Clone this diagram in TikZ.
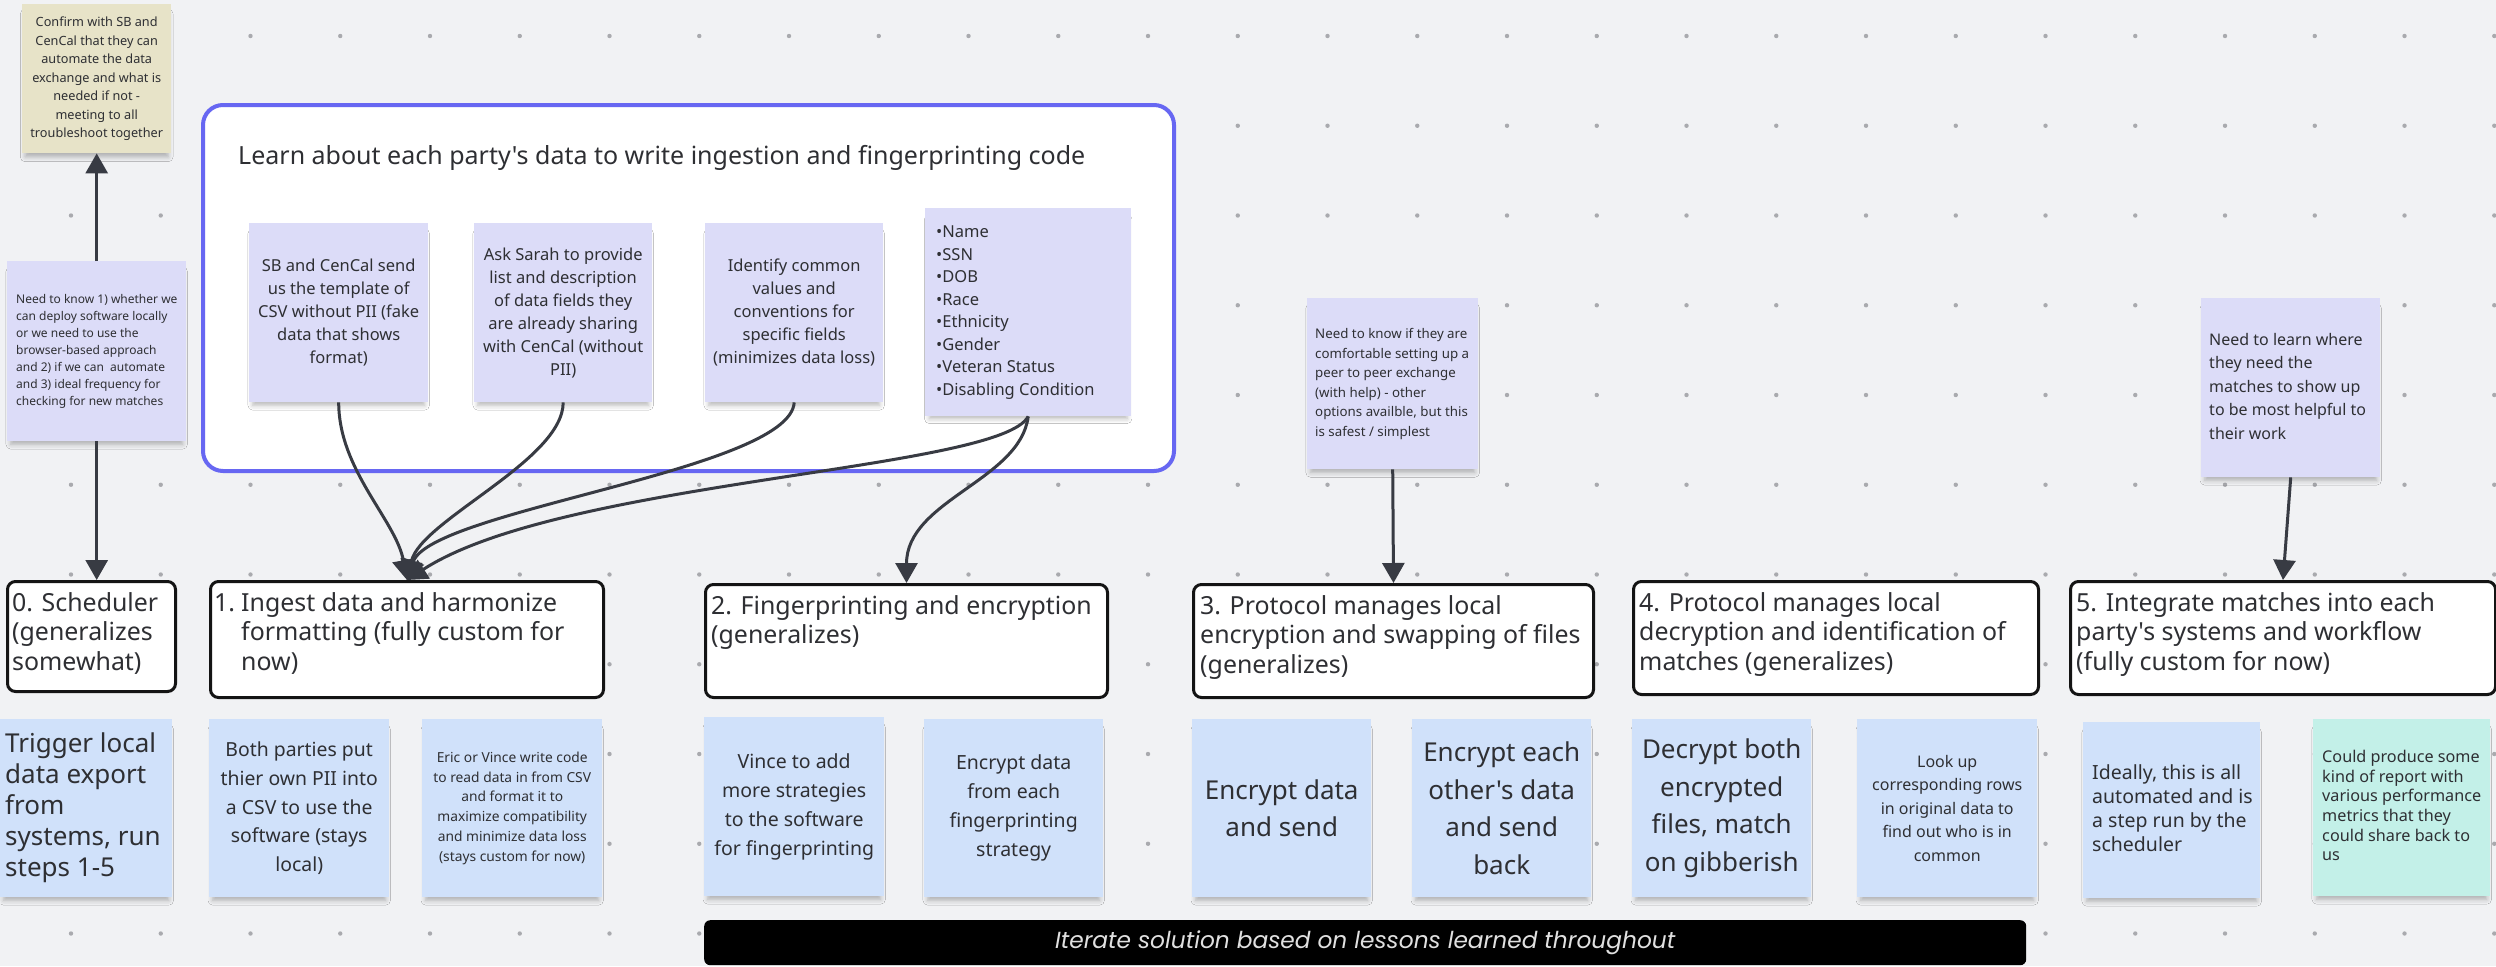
\documentclass[tikz,border=0pt]{standalone}
\usepackage{fontspec}
\setmainfont{Noto Sans}[Ligatures=TeXOff]
\newfontfamily\barfont{Poppins}
\usetikzlibrary{arrows.meta,shadows.blur}
\newcommand{\setfs}[2]{\fontsize{#1}{#2}\selectfont}
% left-aligned block of fixed width, lines never wrap
\newcommand{\leftlines}[2]{\makebox[#1][l]{\begin{tabular}{@{}l@{}}#2\end{tabular}}}

\definecolor{canvas}{HTML}{F1F2F4}
\definecolor{griddot}{HTML}{A9AAAE}
\definecolor{lav}{HTML}{DCDCF8}
\definecolor{skyb}{HTML}{D0E1FA}
\definecolor{mint}{HTML}{C3F0E8}
\definecolor{sand}{HTML}{E7E3C8}
\definecolor{ink}{HTML}{2E2F33}
\definecolor{wire}{HTML}{383B43}
\definecolor{frame}{HTML}{6767F2}

\tikzset{
  note/.style={rectangle, draw=none, anchor=north west, text=ink, inner ysep=0pt,
    blur shadow={shadow xshift=0pt, shadow yshift=-7pt, shadow blur radius=5pt,
                 shadow opacity=28, shadow scale=0.96}},
  cnote/.style 2 args={note, inner xsep=0pt, minimum width=#1,
    minimum height=#2, align=center},
  lnote/.style n args={3}{note, inner xsep=#3, minimum width=#1, minimum height=#2},
  procbox/.style={rectangle, draw=black!92, line width=3pt, rounded corners=8pt,
    fill=white, anchor=north west, inner sep=0pt},
  proctext/.style={anchor=north west, inner sep=0pt, align=left, text=ink,
    font=\setfs{24.9}{29.5}},
  connector/.style={draw=wire, line width=3pt, -{Triangle[length=20pt,width=22pt]}},
}

\begin{document}
\begin{tikzpicture}[x=1pt, y=-1pt]
  \useasboundingbox (0,0) rectangle (2496,966);
  \fill[canvas] (0,0) rectangle (2496,966);

  % dotted canvas grid
  \foreach \i in {0,...,27}
    \foreach \j in {0,...,10}
      \fill[griddot] ({71+89.75*\i},{36+89.75*\j}) circle (2.2pt);

  % planning notes, top left
  \node[cnote={149pt}{149pt}, fill=sand, font=\setfs{12.7}{18.5}] (confirm) at (22,4)
    {Confirm with SB and\\CenCal that they can\\automate the data\\exchange and what is\\needed if not -\\meeting to all\\troubleshoot together};
  \node[lnote={179pt}{180pt}{9pt}, fill=lav, font=\setfs{12}{17}] (needs) at (7,261)
    {\leftlines{161pt}{Need to know 1) whether we\\can deploy software locally\\or we need to use the\\browser-based approach\\and 2) if we can \ automate\\and 3) ideal frequency for\\checking for new matches}};

  % data discovery frame
  \node[draw=frame, line width=4pt, fill=white, rounded corners=20pt, anchor=north west,
        minimum width=971pt, minimum height=366pt] (learn) at (201,103) {};
  \node[anchor=west, inner sep=0pt, text=ink, font=\setfs{25}{30}] (learntitle) at (238,158)
    {Learn about each party's data to write ingestion and fingerprinting code};

  \node[cnote={179pt}{179pt}, fill=lav, font=\setfs{16.5}{23}] (na) at (249,223)
    {SB and CenCal send\\us the template of\\CSV without PII (fake\\data that shows\\format)};
  \node[cnote={178pt}{179pt}, fill=lav, font=\setfs{16.5}{23}] (nb) at (474,223)
    {Ask Sarah to provide\\list and description\\of data fields they\\are already sharing\\with CenCal (without\\PII)};
  \node[cnote={178pt}{179pt}, fill=lav, font=\setfs{16.5}{23}] (nc) at (705,223)
    {Identify common\\values and\\conventions for\\specific fields\\(minimizes data loss)};
  \node[lnote={206pt}{208pt}{11pt}, fill=lav, font=\setfs{16.5}{22.5}] (nd) at (925,208)
    {\leftlines{184pt}{•Name\\•SSN\\•DOB\\•Race\\•Ethnicity\\•Gender\\•Veteran Status\\•Disabling Condition}};

  % open questions above steps 3 and 5
  \node[lnote={171pt}{171pt}{8pt}, fill=lav, font=\setfs{13.3}{19.5}] (peer) at (1307,298)
    {\leftlines{155pt}{Need to know if they are\\comfortable setting up a\\peer to peer exchange\\(with help) - other\\options availble, but this\\is safest / simplest}};
  \node[lnote={179pt}{179pt}{8pt}, fill=lav, font=\setfs{16}{23.5}] (where) at (2201,298)
    {\leftlines{163pt}{Need to learn where\\they need the\\matches to show up\\to be most helpful to\\their work}};

  % pipeline steps
  \node[procbox, minimum width=168pt, minimum height=110pt] (sched) at (6,580) {};
  \node[proctext] (schedtxt) at ([shift={(6pt,-12pt)}]sched.north west)
    {0. Scheduler\\(generalizes\\somewhat)};
  \node[procbox, minimum width=393pt, minimum height=116pt] (ingest) at (209,580) {};
  \node[proctext] (ingesttxt) at ([shift={(5pt,-12pt)}]ingest.north west)
    {\makebox[27pt][l]{1.}Ingest data and harmonize\\\hspace*{27pt}formatting (fully custom for\\\hspace*{27pt}now)};
  \node[procbox, minimum width=402pt, minimum height=113pt] (fpbox) at (704,583) {};
  \node[proctext] (fptxt) at ([shift={(7pt,-12pt)}]fpbox.north west)
    {2. Fingerprinting and encryption\\(generalizes)};
  \node[procbox, minimum width=400pt, minimum height=113pt] (protobox) at (1192,583) {};
  \node[proctext] (prototxt) at ([shift={(8pt,-12pt)}]protobox.north west)
    {3. Protocol manages local\\encryption and swapping of files\\(generalizes)};
  \node[procbox, minimum width=405pt, minimum height=113pt] (decbox) at (1632,580) {};
  \node[proctext] (dectxt) at ([shift={(7pt,-12pt)}]decbox.north west)
    {4. Protocol manages local\\decryption and identification of\\matches (generalizes)};
  \node[procbox, minimum width=425pt, minimum height=113pt] (integ) at (2069,580) {};
  \node[proctext] (integtxt) at ([shift={(7pt,-12pt)}]integ.north west)
    {5. Integrate matches into each\\party's systems and workflow\\(fully custom for now)};

  % task notes under each step
  \node[lnote={172pt}{178pt}{5pt}, fill=skyb, font=\setfs{26}{31}] (trigger) at (0,719)
    {\leftlines{162pt}{Trigger local\\data export\\from\\systems, run\\steps 1-5}};
  \node[cnote={180pt}{178pt}, fill=skyb, font=\setfs{19.4}{28.6}] (bothput) at (209,719)
    {Both parties put\\thier own PII into\\a CSV to use the\\software (stays\\local)};
  \node[cnote={180pt}{178pt}, fill=skyb, font=\setfs{13.8}{19.7}] (ericvince) at (422,719)
    {Eric or Vince write code\\to read data in from CSV\\and format it to\\maximize compatibility\\and minimize data loss\\(stays custom for now)};
  \node[cnote={180pt}{179pt}, fill=skyb, font=\setfs{19.5}{29}] (vince) at (704,717)
    {Vince to add\\more strategies\\to the software\\for fingerprinting};
  \node[cnote={179pt}{178pt}, fill=skyb, font=\setfs{19.5}{29}] (encfp) at (924,719)
    {Encrypt data\\from each\\fingerprinting\\strategy};
  \node[cnote={179pt}{178pt}, fill=skyb, font=\setfs{26}{37.5}] (encsend) at (1192,719)
    {Encrypt data\\and send};
  \node[cnote={179pt}{178pt}, fill=skyb, font=\setfs{26}{37.5}] (encback) at (1412,719)
    {Encrypt each\\other's data\\and send\\back};
  \node[cnote={179pt}{178pt}, fill=skyb, font=\setfs{26}{37.5}] (decrypt) at (1632,719)
    {Decrypt both\\encrypted\\files, match\\on gibberish};
  \node[cnote={180pt}{178pt}, fill=skyb, font=\setfs{16}{23.5}] (lookup) at (1857,719)
    {Look up\\corresponding rows\\in original data to\\find out who is in\\common};
  \node[lnote={177pt}{176pt}{9pt}, fill=skyb, font=\setfs{19.5}{24}] (ideally) at (2083,722)
    {\leftlines{159pt}{Ideally, this is all\\automated and is\\a step run by the\\scheduler}};
  \node[lnote={177pt}{177pt}{9pt}, fill=mint, font=\setfs{16.2}{19.6}] (report) at (2313,719)
    {\leftlines{159pt}{Could produce some\\kind of report with\\various performance\\metrics that they\\could share back to\\us}};

  % iteration banner
  \node[fill=black, rounded corners=6pt, anchor=north west, minimum width=1322pt,
        minimum height=45pt, inner sep=0pt, text=white!88!black,
        font=\barfont\itshape\setfs{23.3}{27}] (iterate) at (704,920)
    {Iterate solution based on lessons learned throughout};

  % connectors
  \draw[connector] (needs.north) -- (confirm.south);
  \draw[connector] (needs.south) -- (needs.south |- sched.north);
  \draw[connector] (na.south) .. controls +(0,68) and +(-11,-60) .. (ingest.north);
  \draw[connector] (nb.south) .. controls +(0,58) and +(14,-60) .. (ingest.north);
  \draw[connector] (nc.south) .. controls +(-4,68) and +(24,-70) .. (ingest.north);
  \draw[connector] (nd.south) .. controls +(-28,54) and +(154,-100) .. (ingest.north);
  \draw[connector] (nd.south) .. controls +(-8,64) and +(0,-83) .. (fpbox.north);
  \draw[connector] (peer.south) -- (protobox.north);
  \draw[connector] (where.south) -- (integ.north);
\end{tikzpicture}
\end{document}
